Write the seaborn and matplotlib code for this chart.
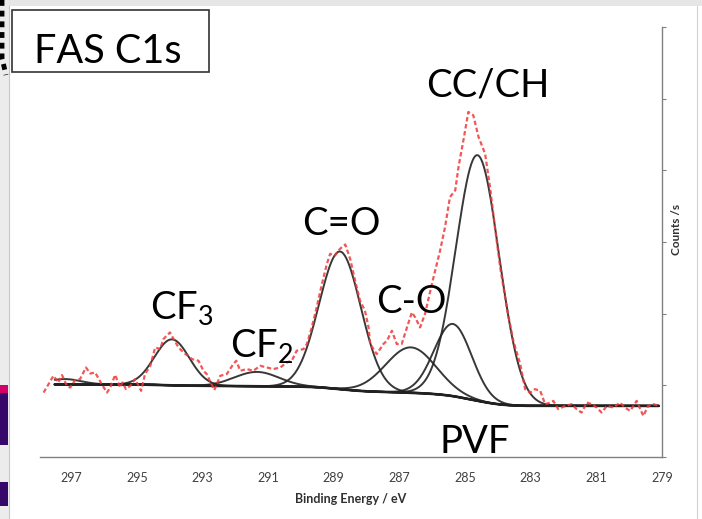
import numpy as np
import matplotlib
matplotlib.use("Agg")
import matplotlib.pyplot as plt
import seaborn as sns
from matplotlib.patches import Rectangle
from matplotlib.lines import Line2D

# Measured C1s spectrum: binding energy (eV) and intensity (counts/s)
be_measured = [297.84, 297.54, 297.39, 297.28, 297.13, 297.03, 296.88, 296.73, 296.55, 296.42,
               296.27, 296.07, 295.91, 295.81, 295.66, 295.51, 295.44, 295.33, 295.20, 295.05,
               294.87, 294.75, 294.59, 294.44, 294.29, 294.19, 294.09, 293.99, 293.88, 293.73,
               293.58, 293.32, 293.12, 292.97, 292.87, 292.64, 292.46, 292.26, 292.06, 291.97,
               291.85, 291.65, 291.45, 291.24, 291.04, 290.84, 290.63, 290.43, 290.28, 290.13,
               289.92, 289.82, 289.67, 289.52, 289.36, 289.21, 289.11, 288.96, 288.81, 288.65,
               288.50, 288.35, 288.20, 288.05, 287.94, 287.89, 287.69, 287.49, 287.38, 287.23,
               287.08, 286.93, 286.77, 286.62, 286.52, 286.37, 286.22, 286.01, 285.76, 285.61,
               285.46, 285.30, 285.20, 285.05, 284.90, 284.75, 284.59, 284.39, 284.24, 284.09,
               283.93, 283.73, 283.53, 283.32, 283.17, 283.02, 282.87, 282.71, 282.56, 282.41,
               282.31, 282.16, 281.95, 281.75, 281.60, 281.45, 281.29, 281.14, 280.99, 280.84,
               280.68, 280.48, 280.28, 280.13, 279.97, 279.77, 279.57, 279.42, 279.27, 279.06]
counts_measured = [899, 1133, 1039, 1143, 993, 969, 1073, 1087, 1249, 1165,
                   1179, 1017, 899, 969, 1147, 969, 1039, 947, 993, 1087,
                   923, 1157, 1273, 1529, 1506, 1646, 1692, 1738, 1646, 1529,
                   1459, 1366, 1343, 1203, 1157, 933, 1133, 1157, 1297, 1343,
                   1203, 1227, 1203, 1273, 1249, 1227, 1249, 1319, 1343, 1483,
                   1506, 1576, 1808, 2088, 2415, 2695, 2835, 2811, 2905, 2965,
                   2765, 2462, 2182, 2042, 1808, 1576, 1436, 1576, 1622, 1762,
                   1576, 1576, 1808, 2018, 1948, 1808, 1996, 2415, 2881, 3207,
                   3627, 3720, 4046, 4420, 4815, 4769, 4466, 4233, 3766, 3207,
                   2648, 2088, 1622, 1297, 947, 899, 947, 923, 737, 759,
                   783, 667, 713, 737, 667, 620, 759, 737, 690, 620,
                   713, 690, 759, 690, 643, 783, 573, 713, 737, 713]

# Fitted peak components: centre (eV), height above background, FWHM (eV)
comp_centers = [297.20, 293.93, 291.34, 288.81, 286.65, 285.37, 284.62]
comp_heights = [75, 640, 200, 1920, 634, 1007, 3427]
comp_fwhm = [1.20, 1.25, 1.60, 1.50, 1.80, 1.35, 1.55]

# Shirley background: level at the low-BE end and total step height
bg_low = 713
bg_step = 300
fit_start, fit_end = 279.1, 297.5

x_ticks = [297, 295, 293, 291, 289, 287, 285, 283, 281, 279]

# (text, BE, intensity, alignment)
peak_labels = [("CC/CH", 284.30, 5035, "center"),
               ("C=O", 288.78, 3091, "center"),
               ("C-O", 286.64, 2014, "center"),
               ("CF$_3$", 294.59, 1930, "left"),
               ("CF$_2$", 292.16, 1399, "left"),
               ("PVF", 284.72, 56, "center")]

sns.set_style("white")
plt.rcParams["font.family"] = ["Lato", "DejaVu Sans"]
plt.rcParams["mathtext.fontset"] = "custom"
plt.rcParams["mathtext.rm"] = "Lato"
plt.rcParams["mathtext.it"] = "Lato"

W, H = 702, 519
fig = plt.figure(figsize=(W / 100, H / 100), dpi=100)
fig.patch.set_facecolor("white")
ax = fig.add_axes([40 / W, 1 - 457 / H, 622 / W, 430 / H])

# Fit curves: each component sitting on the Shirley background
grid = np.linspace(fit_start, fit_end, 800)
peaks = [h * np.exp(-4 * np.log(2) * ((grid - c) / w) ** 2)
         for c, h, w in zip(comp_centers, comp_heights, comp_fwhm)]
total = np.sum(peaks, axis=0)
cum = np.cumsum(total)
background = bg_low + bg_step * cum / cum[-1]

sns.lineplot(x=grid, y=background, ax=ax, color="#1a1a1a", lw=1.9, sort=False)
for p in peaks:
    sns.lineplot(x=grid, y=background + p, ax=ax, color="#222222", lw=1.4,
                 alpha=0.9, sort=False)

sns.lineplot(x=be_measured, y=counts_measured, ax=ax, color="#f03a3a", lw=1.6,
             alpha=0.85, linestyle=(0, (2.0, 1.2)), sort=False)

ax.set_xlim(297.95, 279.0)
ax.set_ylim(0, 6000)
ax.set_xticks(x_ticks)
ax.set_xticklabels([str(t) for t in x_ticks], fontsize=9, color="#404040")
ax.set_yticks(np.arange(0, 6001, 1000))
ax.yaxis.tick_right()
ax.set_yticklabels([])
ax.tick_params(axis="x", direction="out", length=4, width=0.8, color="#808080", pad=7)
ax.tick_params(axis="y", direction="out", length=3, width=0.8, color="#808080")
for side in ("left", "top"):
    ax.spines[side].set_visible(False)
for side in ("right", "bottom"):
    ax.spines[side].set_color("#808080")
    ax.spines[side].set_linewidth(1.0)
ax.set_xlabel("Binding Energy / eV", fontsize=9, fontweight="bold", color="#303030",
              labelpad=6)
ax.set_ylabel("")
fig.text(676 / W, 1 - 229 / H, "Counts /s", rotation=90, fontsize=8.5,
         fontweight="bold", color="#303030", ha="center", va="center")

for text, x, y, ha in peak_labels:
    ax.text(x, y, text, fontsize=27.5, ha=ha, va="baseline", color="black")

# Title box
fig.patches.append(Rectangle((12 / W, 1 - 72 / H), 197 / W, 62 / H,
                             transform=fig.transFigure, facecolor="white",
                             edgecolor="#333333", lw=1.2, zorder=5))
fig.text(34 / W, 1 - 63 / H, "FAS C1s", fontsize=28.5, ha="left", va="baseline",
         color="black", zorder=6)

# Slide frame around the chart
fig.patches.append(Rectangle((0, 1 - 6 / H), 1, 6 / H, transform=fig.transFigure,
                             facecolor="#e6e6e6", edgecolor="none", zorder=1))
fig.patches.append(Rectangle((0, 0), 9 / W, 1, transform=fig.transFigure,
                             facecolor="#ececec", edgecolor="none", zorder=1))
fig.lines.append(Line2D([9 / W, 9 / W], [0, 1 - 6 / H], transform=fig.transFigure,
                        color="#c8c8c8", lw=0.8))
fig.lines.append(Line2D([697 / W, 697 / W], [0, 1 - 6 / H], transform=fig.transFigure,
                        color="#d0d0d0", lw=0.8))
fig.patches.append(Rectangle((0, 1 - 393 / H), 8 / W, 8 / H, transform=fig.transFigure,
                             facecolor="#d4006a", edgecolor="none", zorder=2))
fig.patches.append(Rectangle((0, 1 - 445 / H), 8 / W, 52 / H, transform=fig.transFigure,
                             facecolor="#35086a", edgecolor="none", zorder=2))
fig.patches.append(Rectangle((0, 1 - 506 / H), 8 / W, 24 / H, transform=fig.transFigure,
                             facecolor="#35086a", edgecolor="none", zorder=2))
fig.lines.append(Line2D([2 / W, 2 / W, 6 / W], [1, 1 - 58 / H, 1 - 75 / H],
                        transform=fig.transFigure, color="black", lw=3.5,
                        linestyle=(0, (1.2, 1.0))))

fig.savefig("out.png", dpi=100)
